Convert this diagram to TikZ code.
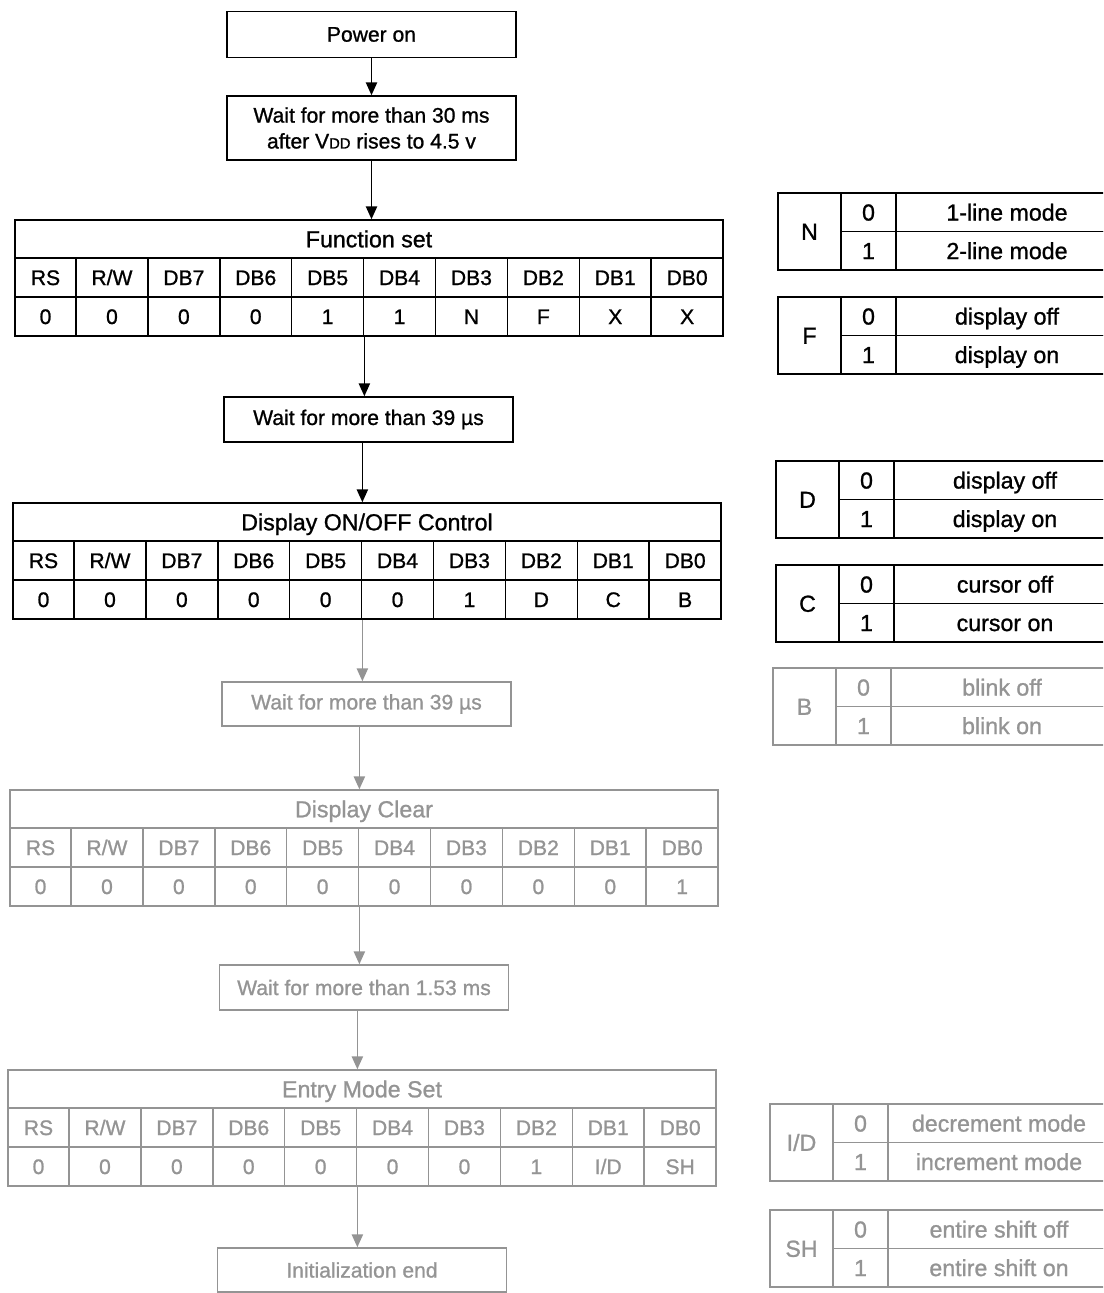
\documentclass[tikz,border=0pt]{standalone}
\usepackage{fontspec}
\setmainfont{Liberation Sans}[FakeBold=1]
\usetikzlibrary{arrows.meta}

\colorlet{faded}{black!42}

% register table: name, left, top, title, bit values
\newcommand{\regtable}[5]{%
  \node[titlecell] (#1) at (#2+354,#3+19) {#4};
  \foreach \lab [count=\i] in {RS,{R/W},DB7,DB6,DB5,DB4,DB3,DB2,DB1,DB0} {
    \pgfmathsetmacro\cx{\i==1 ? 0 : 61+(\i-2)*71.9}
    \pgfmathsetmacro\cw{\i==1 ? 61 : 71.9}
    \node[cell, minimum width=\cw*0.025cm] (#1-h\i) at (#2+\cx+\cw/2,#3+57.5) {\lab};
  }
  \foreach \val [count=\i] in {#5} {
    \pgfmathsetmacro\cx{\i==1 ? 0 : 61+(\i-2)*71.9}
    \pgfmathsetmacro\cw{\i==1 ? 61 : 71.9}
    \node[cell, minimum width=\cw*0.025cm] (#1-v\i) at (#2+\cx+\cw/2,#3+96.5) {\val};
  }
}

% bit meaning table: name, left, top, bit, meaning of 0, meaning of 1
\newcommand{\bittable}[6]{%
  \node[bitcell, minimum width=63*0.025cm, minimum height=77*0.025cm] (#1) at (#2+31.5,#3+38.5) {#4};
  \node[bitcell, minimum width=55*0.025cm] (#1-0) at (#2+90.5,#3+19.25) {0};
  \node[bitcell, minimum width=55*0.025cm] (#1-1) at (#2+90.5,#3+57.75) {1};
  \node[bitcell, minimum width=222*0.025cm] (#1-d0) at (#2+229,#3+19.25) {#5};
  \node[bitcell, minimum width=222*0.025cm] (#1-d1) at (#2+229,#3+57.75) {#6};
}

\begin{document}
\begin{tikzpicture}[x=0.025cm,y=-0.025cm,line width=1.1pt,
    flowbox/.style={draw, minimum width=289*0.025cm, minimum height=45*0.025cm, align=center, inner sep=0pt, font=\fontsize{15}{18.4}\selectfont},
    titlecell/.style={draw, minimum width=708*0.025cm, minimum height=38*0.025cm, inner sep=0pt, text height=12.5pt, text depth=0.7pt, font=\fontsize{16.5}{19}\selectfont},
    cell/.style={draw, minimum height=39*0.025cm, inner sep=0pt, text height=11.5pt, text depth=0.8pt, font=\fontsize{15}{18}\selectfont},
    bitcell/.style={draw, minimum height=38.5*0.025cm, inner sep=0pt, text height=12.5pt, text depth=0.7pt, font=\fontsize{16.5}{19}\selectfont},
    flow/.style={-{Triangle[length=3.2mm,width=2.8mm]}}]

  \useasboundingbox (0,0) rectangle (1103,1293);
  \clip (0,0) rectangle (1103,1293);

  % start of the sequence
  \node[flowbox, minimum height=46*0.025cm] (power) at (371.5,34.5) {Power on};
  \node[flowbox, minimum height=64*0.025cm] (wait1) at (371.5,128) {Wait for more than 30 ms\\after V{\fontsize{10.5}{12}\selectfont DD} rises to 4.5 v};
  \regtable{fs}{15}{220}{Function set}{0,0,0,0,1,1,N,F,X,X}
  \node[flowbox] (wait2) at (368.5,419.5) {Wait for more than 39 µs};
  \regtable{doc}{13}{503}{Display ON/OFF Control}{0,0,0,0,0,0,1,D,C,B}

  \draw[flow] (power.south) -- (wait1.north);
  \draw[flow] (wait1.south) -- (wait1.south |- fs.north);
  \draw[flow] (fs-v5.south east) -- (fs-v5.south east |- wait2.north);
  \draw[flow] (wait2.south -| doc-v5.east) -- (doc.north -| doc-v5.east);

  % flag meanings
  \bittable{tn}{778}{193}{N}{1-line mode}{2-line mode}
  \bittable{tf}{778}{297}{F}{display off}{display on}
  \bittable{td}{776}{461}{D}{display off}{display on}
  \bittable{tc}{776}{565}{C}{cursor off}{cursor on}

  % faded part of the scan
  \begin{scope}[color=faded]
    \node[flowbox, minimum height=44*0.025cm] (wait3) at (366.5,704) {Wait for more than 39 µs};
    \regtable{dc}{10}{790}{Display Clear}{0,0,0,0,0,0,0,0,0,1}
    \node[flowbox] (wait4) at (364,987.5) {Wait for more than 1.53 ms};
    \regtable{ems}{8}{1070}{Entry Mode Set}{0,0,0,0,0,0,0,1,I/D,SH}
    \node[flowbox, minimum height=44*0.025cm] (fin) at (362,1270) {Initialization end};

    \draw[flow] (doc-v5.south east) -- (doc-v5.south east |- wait3.north);
    \draw[flow] (wait3.south -| dc-v5.east) -- (dc.north -| dc-v5.east);
    \draw[flow] (dc-v5.south east) -- (dc-v5.south east |- wait4.north);
    \draw[flow] (wait4.south -| ems-v5.east) -- (ems.north -| ems-v5.east);
    \draw[flow] (ems-v5.south east) -- (ems-v5.south east |- fin.north);

    \bittable{tb}{773}{668}{B}{blink off}{blink on}
    \bittable{tid}{770}{1104}{I/D}{decrement mode}{increment mode}
    \bittable{tsh}{770}{1210}{SH}{entire shift off}{entire shift on}
  \end{scope}

\end{tikzpicture}
\end{document}
